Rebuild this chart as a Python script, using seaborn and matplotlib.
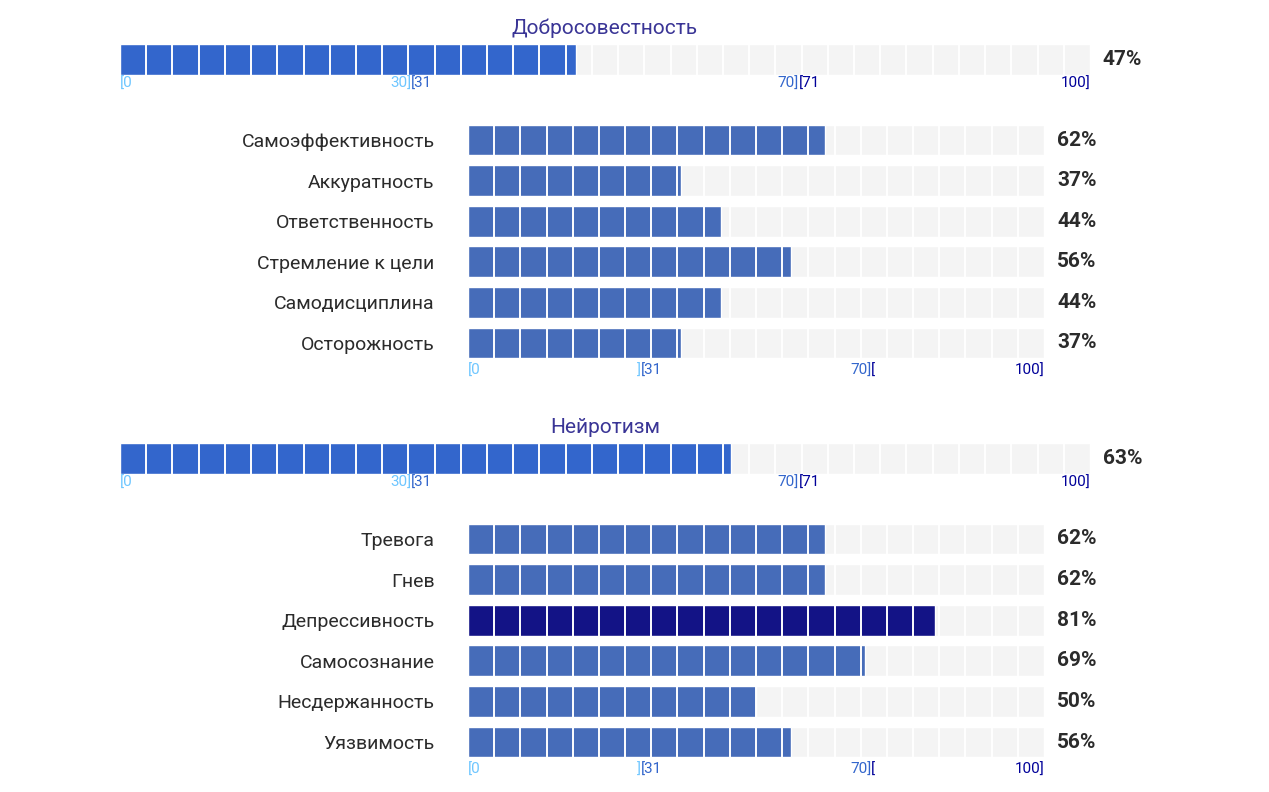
import numpy as np
import pandas as pd
import seaborn as sns
import matplotlib.pyplot as plt
from matplotlib.transforms import blended_transform_factory

sns.set_theme(style="white")
plt.rcParams['font.family'] = ['Roboto', 'DejaVu Sans']

# data
scale_names = ["Добросовестность", "Нейротизм"]
scale_values = [47, 63]
facet_names = [
    ["Самоэффективность", "Аккуратность", "Ответственность", "Стремление к цели", "Самодисциплина", "Осторожность"],
    ["Тревога", "Гнев", "Депрессивность", "Самосознание", "Несдержанность", "Уязвимость"],
]
facet_values = [
    [62, 37, 44, 56, 44, 37],
    [62, 62, 81, 69, 50, 56],
]

W, H = 1269, 792
BLUE = "#3366cc"
DARK = "#000099"
LIGHT = "#6ec6ff"
GRAY = "#f4f4f4"
TITLE = "#3a3596"

fig = plt.figure(figsize=(W / 100, H / 100), dpi=100)


def px_axes(x0, y0, x1, y1):
    return fig.add_axes([x0 / W, 1 - y1 / H, (x1 - x0) / W, (y1 - y0) / H])


def ticks(ax, y_off, main):
    tr = blended_transform_factory(ax.transData, ax.transAxes)
    kw = dict(transform=tr, fontsize=11, va="top")
    ax.text(0, y_off, "[0", color=LIGHT, ha="left", **kw)
    ax.text(30, y_off, "30]" if main else "]", color=LIGHT, ha="right", **kw)
    ax.text(30, y_off, "[31", color=BLUE, ha="left", **kw)
    ax.text(70, y_off, "70]", color=BLUE, ha="right", **kw)
    ax.text(70, y_off, "[71" if main else "[", color=DARK, ha="left", **kw)
    ax.text(100, y_off, "100]", color=DARK, ha="right", **kw)


def segments(ax, n):
    for x in np.arange(1, n) * 100 / n:
        ax.axvline(x, color="white", lw=1.4, zorder=5)


for b in range(2):
    off = b * 399
    # main scale bar
    ax = px_axes(120, 44 + off, 1090, 75 + off)
    ax.barh([0], [100], height=1, color=GRAY, zorder=1)
    ax.barh([0], [scale_values[b]], height=1, color=BLUE, zorder=2)
    segments(ax, 37)
    ax.set_xlim(0, 100)
    ax.set_ylim(-0.5, 0.5)
    ax.axis("off")
    ax.set_title(scale_names[b], color=TITLE, fontsize=15, pad=7)
    ax.text(1.013, 0.5, f"{scale_values[b]}%", transform=ax.transAxes, fontsize=15,
            fontweight="bold", color="#2b2b2b", va="center", ha="left")
    ticks(ax, -0.05, True)

    # facets
    ax2 = px_axes(468, 119.7 + off, 1044, 363.3 + off)
    df = pd.DataFrame({"name": facet_names[b], "value": facet_values[b]})
    colors = [DARK if v > 70 else BLUE for v in facet_values[b]]
    sns.barplot(data=df, y="name", x=[100] * len(df), color=GRAY, width=0.76, ax=ax2, zorder=1)
    sns.barplot(data=df, y="name", x="value", hue="name", palette=colors, legend=False,
                width=0.76, ax=ax2, zorder=2)
    segments(ax2, 22)
    ax2.set_xlim(0, 100)
    ax2.set_ylim(len(df) - 0.5, -0.5)
    for s in ax2.spines.values():
        s.set_visible(False)
    ax2.set_xticks([])
    ax2.set_xlabel("")
    ax2.set_ylabel("")
    ax2.tick_params(axis="y", length=0, pad=24, labelsize=14, labelcolor="#2b2b2b")
    for i, v in enumerate(facet_values[b]):
        ax2.text(102.3, i, f"{v}%", fontsize=15, fontweight="bold", color="#2b2b2b",
                 va="center", ha="left")
    ticks(ax2, 0.0, False)

fig.savefig("out.png", dpi=100)
